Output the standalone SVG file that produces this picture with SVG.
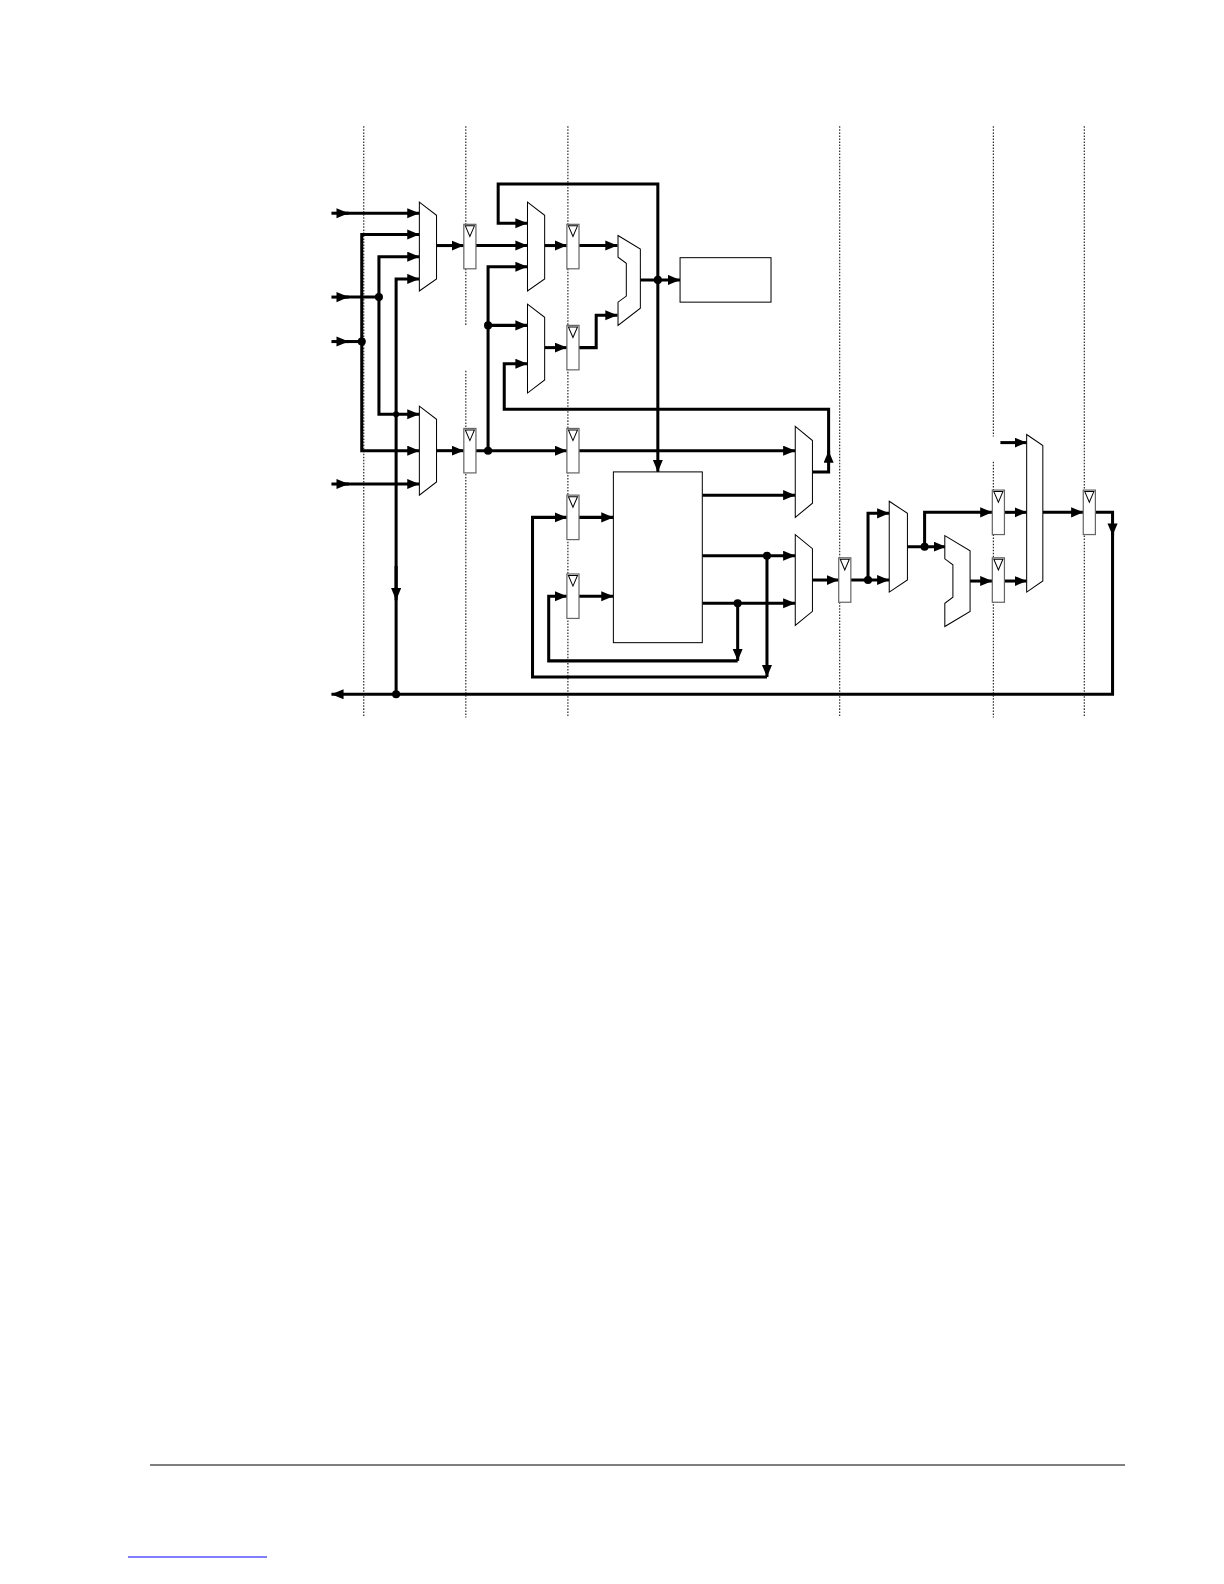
<svg xmlns="http://www.w3.org/2000/svg" width="1224" height="1584" viewBox="0 0 1224 1584">
<style>
.dot{stroke:#000;stroke-width:1;stroke-dasharray:1.5 1.5;fill:none}
.w{fill:none;stroke:#000;stroke-width:3;stroke-linejoin:miter}
.a{marker-end:url(#ar)}
.blk{fill:#fff;stroke:#000;stroke-width:1}
.reg{fill:#fff;stroke:#666;stroke-width:1.2}
.j{fill:#000}
</style>
<defs>
<marker id="ar" markerUnits="userSpaceOnUse" markerWidth="13" markerHeight="11" refX="12" refY="5" orient="auto"><path d="M0,0 L12,5 L0,10 z" fill="#000"/></marker>
<g id="rg"><rect class="reg" x="0" y="0" width="12" height="44"/><path d="M1.5,1.5 L10.5,1.5 L6,12 z" fill="#fff" stroke="#000" stroke-width="1"/></g>
</defs>
<rect width="1224" height="1584" fill="#fff"/>
<g transform="scale(1.0105)">
<g id="grid">
<path class="dot" d="M360,125 V710 M461,125 V322 M461,367 V710 M562,125 V710 M831,125 V710 M983,125 V432 M983,457 V710 M1073,125 V710"/>
</g>
<g id="connectors">
<path class="w a" d="M328,211 H345"/><path class="w a" d="M340,211 H415"/>
<path class="w a" d="M328,294 H345"/><path class="w" d="M340,294 H375"/>
<path class="w a" d="M328,338 H345"/><path class="w" d="M340,338 H358"/>
<path class="w a" d="M328,479 H345"/><path class="w a" d="M340,479 H415"/>
<path class="w a" d="M375,294 V254 H415"/><path class="w a" d="M375,294 V410 H415"/>
<path class="w a" d="M358,338 V232 H415"/><path class="w a" d="M358,338 V446 H415"/>
<path class="w a" d="M392,687 V276 H415"/><path class="w a" d="M392,560 V594"/>
<path class="w a" d="M432,243 H459"/><path class="w a" d="M432,446 H459"/>
<path class="w a" d="M471,243 H522"/>
<path class="w a" d="M471,446 H561"/>
<path class="w a" d="M483,446 V264 H522"/><path class="w a" d="M483,322 H522"/>
<path class="w a" d="M651,277 V182 H493 V221 H522"/><path class="w a" d="M651,277 V467"/>
<path class="w a" d="M539,243 H561"/><path class="w a" d="M573,243 H611"/>
<path class="w a" d="M539,344 H561"/><path class="w a" d="M573,344 H590 V312 H611"/>
<path class="w a" d="M633,277 H673"/>
<path class="w a" d="M804,467 H820 V446"/><path class="w a" d="M820,452 V405 H499 V360 H522"/>
<path class="w a" d="M573,446 H787"/>
<path class="w a" d="M695,490 H787"/>
<path class="w a" d="M695,550 H787"/><path class="w a" d="M695,597 H787"/>
<path class="w a" d="M759,550 V670"/><path class="w a" d="M759,670 H527 V512 H561"/>
<path class="w a" d="M730,597 V654"/><path class="w a" d="M730,654 H543 V590 H561"/>
<path class="w a" d="M573,512 H607"/><path class="w a" d="M573,590 H607"/>
<path class="w a" d="M804,574 H830"/>
<path class="w a" d="M842,574 H880"/><path class="w a" d="M859,574 V508 H880"/>
<path class="w a" d="M898,541 H936"/><path class="w a" d="M915,541 V507 H982"/>
<path class="w a" d="M960,575 H982"/>
<path class="w a" d="M993,507 H1016"/><path class="w a" d="M993,575 H1016"/><path class="w a" d="M990,438 H1016"/>
<path class="w a" d="M1032,507 H1072"/>
<path class="w a" d="M1084,507 H1101 V530"/><path class="w a" d="M1101,525 V687 H328"/>
<circle class="j" cx="375" cy="294" r="4"/><circle class="j" cx="358" cy="338" r="4"/>
<circle class="j" cx="392" cy="410" r="3"/><circle class="j" cx="483" cy="322" r="4"/>
<circle class="j" cx="483" cy="446" r="4"/><circle class="j" cx="651" cy="277" r="4"/>
<circle class="j" cx="759" cy="550" r="4"/><circle class="j" cx="730" cy="597" r="4"/>
<circle class="j" cx="859" cy="574" r="4"/><circle class="j" cx="915" cy="541" r="4"/>
<circle class="j" cx="392" cy="687" r="4"/>
</g>
<g id="mux1"><path class="blk" d="M415,200 L432,213 L432,276 L415,288 z"/></g>
<g id="mux2"><path class="blk" d="M415,402 L432,415 L432,477 L415,490 z"/></g>
<g id="mux3"><path class="blk" d="M522,200 L539,213 L539,276 L522,288 z"/></g>
<g id="mux4"><path class="blk" d="M522,301 L539,314 L539,376 L522,389 z"/></g>
<g id="mux5"><path class="blk" d="M787,422 L804,436 L804,498 L787,512 z"/></g>
<g id="mux6"><path class="blk" d="M787,529 L804,543 L804,605 L787,619 z"/></g>
<g id="mux7"><path class="blk" d="M880,496 L898,508 L898,574 L880,586 z"/></g>
<g id="mux8"><path class="blk" d="M1016,430 L1032,441 L1032,575 L1016,586 z"/></g>
<g id="adder1"><path class="blk" d="M611.6,233 L633.7,246.5 L633.7,305 L611.6,322 L611.6,299 L619.8,293 L619.8,260.5 L611.6,254.5 z"/></g>
<g id="adder2"><path class="blk" d="M935,530 L960,545 L960,605 L935,620 L935,597 L943,591 L943,559 L935,553 z"/></g>
<g id="box1"><rect class="blk" x="673" y="255" width="90" height="44"/></g>
<g id="box2"><rect class="blk" x="607" y="467" width="88" height="169"/></g>
<g id="regs">
<use href="#rg" x="459" y="222"/><use href="#rg" x="459" y="424"/>
<use href="#rg" x="561" y="222"/><use href="#rg" x="561" y="322"/>
<use href="#rg" x="561" y="424"/><use href="#rg" x="561" y="490"/>
<use href="#rg" x="561" y="568"/><use href="#rg" x="830" y="552"/>
<use href="#rg" x="982" y="485"/><use href="#rg" x="982" y="552"/>
<use href="#rg" x="1072" y="485"/>
</g>
</g>
<line x1="150" y1="1465" x2="1125" y2="1465" stroke="#000" stroke-width="1"/>
<line x1="128" y1="1557" x2="267" y2="1557" stroke="#00f" stroke-width="1"/>
</svg>
